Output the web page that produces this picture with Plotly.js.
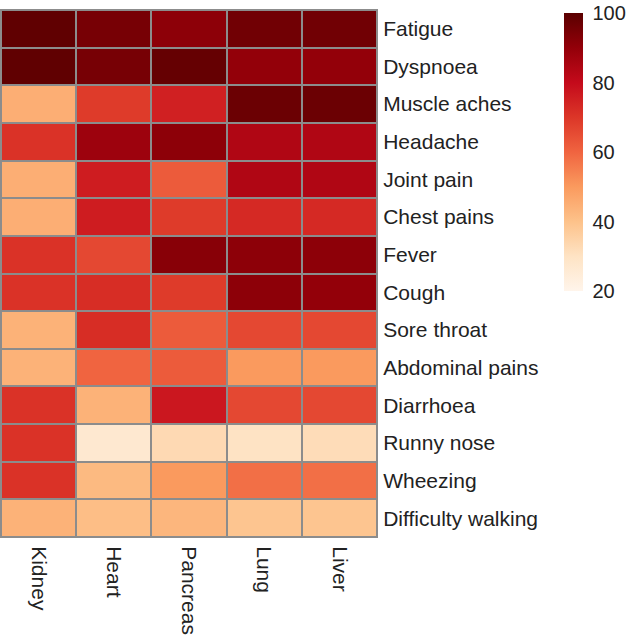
<!DOCTYPE html>
<html>
<head>
<meta charset="utf-8">
<script src="https://cdn.plot.ly/plotly-3.0.1.min.js"></script>
<style>html,body{margin:0;padding:0;background:#fff;}#chart{width:627px;height:639px;}</style>
</head>
<body>
<div id="chart"></div>
<script>
var organs = ["Kidney", "Heart", "Pancreas", "Lung", "Liver"];
var symptoms = ["Fatigue", "Dyspnoea", "Muscle aches", "Headache", "Joint pain", "Chest pains", "Fever", "Cough", "Sore throat", "Abdominal pains", "Diarrhoea", "Runny nose", "Wheezing", "Difficulty walking"];
var fatigue = [99, 95, 91, 96, 96];
var dyspnoea = [99, 95, 98, 90, 90];
var muscleAches = [45, 69, 75, 97, 97];
var headache = [71, 88, 91, 84, 84];
var jointPain = [45, 76, 62, 84, 84];
var chestPains = [45, 76, 69, 73, 73];
var fever = [71, 66, 92, 91, 91];
var cough = [71, 72, 69, 91, 90];
var soreThroat = [44, 72, 62, 66, 66];
var abdominalPains = [44, 60, 62, 50, 50];
var diarrhoea = [71, 44, 77, 66, 66];
var runnyNose = [71, 27, 33, 30, 32];
var wheezing = [71, 42, 50, 58, 58];
var difficultyWalking = [44, 41, 43, 39, 39];
var colorTicks = [20, 40, 60, 80, 100];

var z = [fatigue, dyspnoea, muscleAches, headache, jointPain, chestPains, fever, cough, soreThroat, abdominalPains, diarrhoea, runnyNose, wheezing, difficultyWalking];

var colorscale = [
  [0.0, "#FFF5EB"],
  [0.125, "#FEE3C4"],
  [0.25, "#FDC28A"],
  [0.375, "#FA9A5E"],
  [0.5, "#F06440"],
  [0.625, "#DC3628"],
  [0.75, "#C40A1B"],
  [0.875, "#930009"],
  [1.0, "#5A0000"]
];

var font = "'Liberation Sans', Arial, sans-serif";
var trace = {
  type: "heatmap",
  x: organs,
  y: symptoms,
  z: z,
  zmin: 20,
  zmax: 100,
  colorscale: colorscale,
  xgap: 2,
  ygap: 2,
  hoverinfo: "none",
  colorbar: {
    thickness: 19,
    thicknessmode: "pixels",
    len: 278,
    lenmode: "pixels",
    x: 1.497,
    xanchor: "left",
    y: 1 - 3 / 527,
    yanchor: "top",
    xpad: 0,
    ypad: 0,
    outlinewidth: 0,
    tickvals: colorTicks,
    ticktext: colorTicks.map(String),
    ticks: "outside",
    ticklen: 6,
    tickcolor: "rgba(0,0,0,0)",
    ticklabeloverflow: "allow",
    tickfont: {family: font, size: 20, color: "#222"}
  }
};

var layout = {
  width: 627,
  height: 639,
  margin: {l: 1, r: 250, t: 10, b: 102},
  paper_bgcolor: "#ffffff",
  plot_bgcolor: "#8c8c8c",
  font: {family: font, color: "#222"},
  xaxis: {
    type: "category",
    tickangle: 90,
    ticks: "",
    showgrid: false,
    zeroline: false,
    showline: true,
    mirror: true,
    linecolor: "#8c8c8c",
    linewidth: 1,
    tickfont: {family: font, size: 21, color: "#222"},
    ticklabelstandoff: 4
  },
  yaxis: {
    type: "category",
    side: "right",
    autorange: "reversed",
    ticks: "",
    showgrid: false,
    zeroline: false,
    showline: true,
    mirror: true,
    linecolor: "#8c8c8c",
    linewidth: 1,
    tickfont: {family: font, size: 21, color: "#222"},
    ticklabelstandoff: 1
  }
};

Plotly.newPlot("chart", [trace], layout, {displayModeBar: false, staticPlot: true});
</script>
</body>
</html>
